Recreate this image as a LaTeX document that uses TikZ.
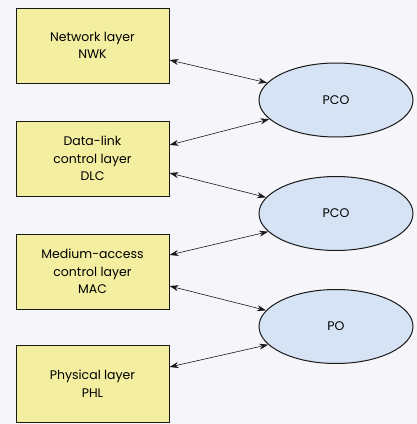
\documentclass[tikz,border=0pt]{standalone}
\usepackage{fontspec}
\setmainfont{Poppins}
\usetikzlibrary{shapes.geometric,arrows.meta}
\definecolor{bgc}{RGB}{246,245,250}
\definecolor{boxc}{RGB}{243,238,160}
\definecolor{ellc}{RGB}{214,227,244}
\tikzset{
  layerbox/.style={draw=black!90, line width=1pt, fill=boxc, minimum width=153pt, minimum height=75pt, inner sep=0pt, align=center, font=\fontsize{12.5pt}{17.5pt}\selectfont},
  pcobox/.style={ellipse, draw=black!90, line width=1pt, fill=ellc, minimum width=154pt, minimum height=74pt, inner sep=0pt, font=\fontsize{12.5pt}{15pt}\selectfont},
  link/.style={{Stealth[length=9pt,width=6pt]}-{Stealth[length=9pt,width=6pt]}, line width=0.6pt, black!90}
}
\begin{document}
\begin{tikzpicture}[x=1pt,y=-1pt]
\fill[bgc] (0,0) rectangle (417,424);
\useasboundingbox (0,0) rectangle (417,424);
\node[layerbox] (b1) at (92.5,45.5) {Network layer\\NWK};
\node[layerbox] (b2) at (92.5,158.5) {Data-link\\control layer\\DLC};
\node[layerbox] (b3) at (92.5,271.5) {Medium-access\\control layer\\MAC};
\node[layerbox, minimum height=77pt] (b4) at (92.5,383.5) {Physical layer\\PHL};
\node[pcobox] (e1) at (336,100) {PCO};
\node[pcobox] (e2) at (336,213.5) {PCO};
\node[pcobox] (e3) at (336,326.5) {PO};
\draw[link] ([yshift=-14.5pt]b1.east) -- (e1.166);
\draw[link] ([yshift=13.5pt]b2.east) -- (e1.196);
\draw[link] ([yshift=-14.5pt]b2.east) -- (e2.167);
\draw[link] ([yshift=16.5pt]b3.east) -- (e2.195);
\draw[link] ([yshift=-14.5pt]b3.east) -- (e3.167);
\draw[link] ([yshift=16.5pt]b4.east) -- (e3.195);
\end{tikzpicture}
\end{document}
